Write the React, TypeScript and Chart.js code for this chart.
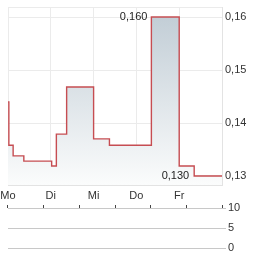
import React, { useEffect, useRef } from "react";
import { Chart, registerables } from "chart.js";

Chart.register(...registerables);

// Day labels for the x axis (0 = Mo ... 4 = Fr, 5 = end of week)
const dayLabels = ["Mo", "Di", "Mi", "Do", "Fr", ""];
const dayTicks = [0, 1, 2, 3, 4, 5];

// Price series (time in days since Monday open, price)
const times = [0.0, 0.02, 0.12, 0.37, 1.02, 1.13, 1.37, 2.0, 2.37, 3.35, 4.0, 4.35, 5.0];
const prices = [0.144, 0.1358, 0.1338, 0.1328, 0.1319, 0.1379, 0.1468, 0.137, 0.1358, 0.16, 0.1319, 0.13, 0.13];

const priceTicks = [0.13, 0.14, 0.15, 0.16];
const priceMin = 0.1283;
const priceMax = 0.1619;

// Volume series (none visible)
const volumeTimes: number[] = [];
const volumes: number[] = [];
const volumeTicks = [0, 5, 10];

const FONT = "Arial, 'Liberation Sans', sans-serif";

const fmt = (v: number, d: number) => v.toFixed(d).replace(".", ",");

const noPad = (s: any) => {
  s.paddingLeft = 0;
  s.paddingRight = 0;
  s.paddingTop = 0;
  s.paddingBottom = 0;
};

const annotPlugin = {
  id: "hiLo",
  afterDatasetsDraw(chart: any) {
    const { ctx, scales } = chart;
    const x = scales.x;
    const y = scales.y;
    let iMax = 0;
    let iMin = 0;
    prices.forEach((p, i) => {
      if (p > prices[iMax]) iMax = i;
      if (p < prices[iMin]) iMin = i;
    });
    ctx.save();
    ctx.font = `11px ${FONT}`;
    ctx.fillStyle = "#222";
    ctx.textAlign = "right";
    ctx.textBaseline = "middle";
    ctx.fillText(fmt(prices[iMax], 3), x.getPixelForValue(times[iMax]) - 4, y.getPixelForValue(prices[iMax]));
    ctx.fillText(fmt(prices[iMin], 3), x.getPixelForValue(times[iMin]) - 5, y.getPixelForValue(prices[iMin]));
    ctx.restore();
  },
};

function PriceChart() {
  const ref = useRef<HTMLCanvasElement>(null);
  useEffect(() => {
    const chart = new Chart(ref.current!, {
      type: "line",
      data: {
        datasets: [
          {
            data: times.map((t, i) => ({ x: t, y: prices[i] })),
            stepped: true,
            borderColor: "#c64d52",
            borderWidth: 1.4,
            pointRadius: 0,
            fill: "start",
            backgroundColor: (c: any) => {
              const area = c.chart.chartArea;
              if (!area) return "rgba(0,0,0,0)";
              const g = c.chart.ctx.createLinearGradient(0, area.top, 0, area.bottom);
              g.addColorStop(0, "#bfcbd4");
              g.addColorStop(1, "#fbfcfc");
              return g;
            },
          },
        ],
      },
      options: {
        animation: false,
        responsive: false,
        maintainAspectRatio: false,
        layout: { padding: { left: 8, top: 7, right: 0, bottom: 0 } },
        plugins: { legend: { display: false }, tooltip: { enabled: false } },
        scales: {
          x: {
            type: "linear",
            min: 0,
            max: 5,
            afterBuildTicks: (s: any) => {
              s.ticks = dayTicks.map((v) => ({ value: v }));
            },
            afterFit: (s: any) => {
              s.height = 20;
              noPad(s);
            },
            grid: { color: "#ebebeb", drawTicks: false },
            border: { color: "#e3e3e3" },
            ticks: {
              autoSkip: false,
              maxRotation: 0,
              padding: 4,
              color: "#333",
              font: { family: FONT, size: 11 },
              callback: (v: any) => dayLabels[dayTicks.indexOf(Number(v))] ?? "",
            },
          },
          y: {
            position: "right",
            min: priceMin,
            max: priceMax,
            afterBuildTicks: (s: any) => {
              s.ticks = [priceMin, ...priceTicks, priceMax].map((v) => ({ value: v }));
            },
            afterFit: (s: any) => {
              s.width = 42;
              noPad(s);
            },
            grid: { color: "#ebebeb", drawTicks: false },
            border: { color: "#e3e3e3" },
            ticks: {
              padding: 3,
              color: "#333",
              font: { family: FONT, size: 11 },
              callback: (v: any) => (priceTicks.includes(Number(v)) ? fmt(Number(v), 2) : ""),
            },
          },
        },
      },
      plugins: [annotPlugin],
    } as any);
    return () => chart.destroy();
  }, []);
  return <canvas ref={ref} width={264} height={205} style={{ position: "absolute", left: 0, top: 0 }} />;
}

function VolumeChart() {
  const ref = useRef<HTMLCanvasElement>(null);
  useEffect(() => {
    const chart = new Chart(ref.current!, {
      type: "bar",
      data: {
        datasets: [
          {
            data: volumeTimes.map((t, i) => ({ x: t, y: volumes[i] })),
            backgroundColor: "#9aa8b4",
          },
        ],
      },
      options: {
        animation: false,
        responsive: false,
        maintainAspectRatio: false,
        layout: { padding: { left: 8, top: 8, right: 0, bottom: 7 } },
        plugins: { legend: { display: false }, tooltip: { enabled: false } },
        scales: {
          x: {
            type: "linear",
            position: "top",
            min: 0,
            max: 5,
            afterBuildTicks: (s: any) => {
              s.ticks = dayTicks.map((v) => ({ value: v }));
            },
            afterFit: (s: any) => {
              s.height = 0;
              noPad(s);
            },
            grid: { drawOnChartArea: false, tickLength: 3, color: "#444" },
            border: { color: "#c8c8c8" },
            ticks: { display: false },
          },
          y: {
            position: "right",
            min: 0,
            max: 10,
            afterBuildTicks: (s: any) => {
              s.ticks = volumeTicks.map((v) => ({ value: v }));
            },
            afterFit: (s: any) => {
              s.width = 42;
              noPad(s);
            },
            grid: { color: "#c8c8c8", tickLength: 4 },
            border: { display: false },
            ticks: {
              padding: 2,
              color: "#333",
              font: { family: FONT, size: 11 },
            },
          },
        },
      },
    } as any);
    return () => chart.destroy();
  }, []);
  return <canvas ref={ref} width={264} height={55} style={{ position: "absolute", left: 0, top: 200 }} />;
}

export default function App() {
  return (
    <div style={{ position: "fixed", left: 0, top: 0, width: 264, height: 255, background: "#fff", overflow: "hidden" }}>
      <PriceChart />
      <VolumeChart />
    </div>
  );
}
